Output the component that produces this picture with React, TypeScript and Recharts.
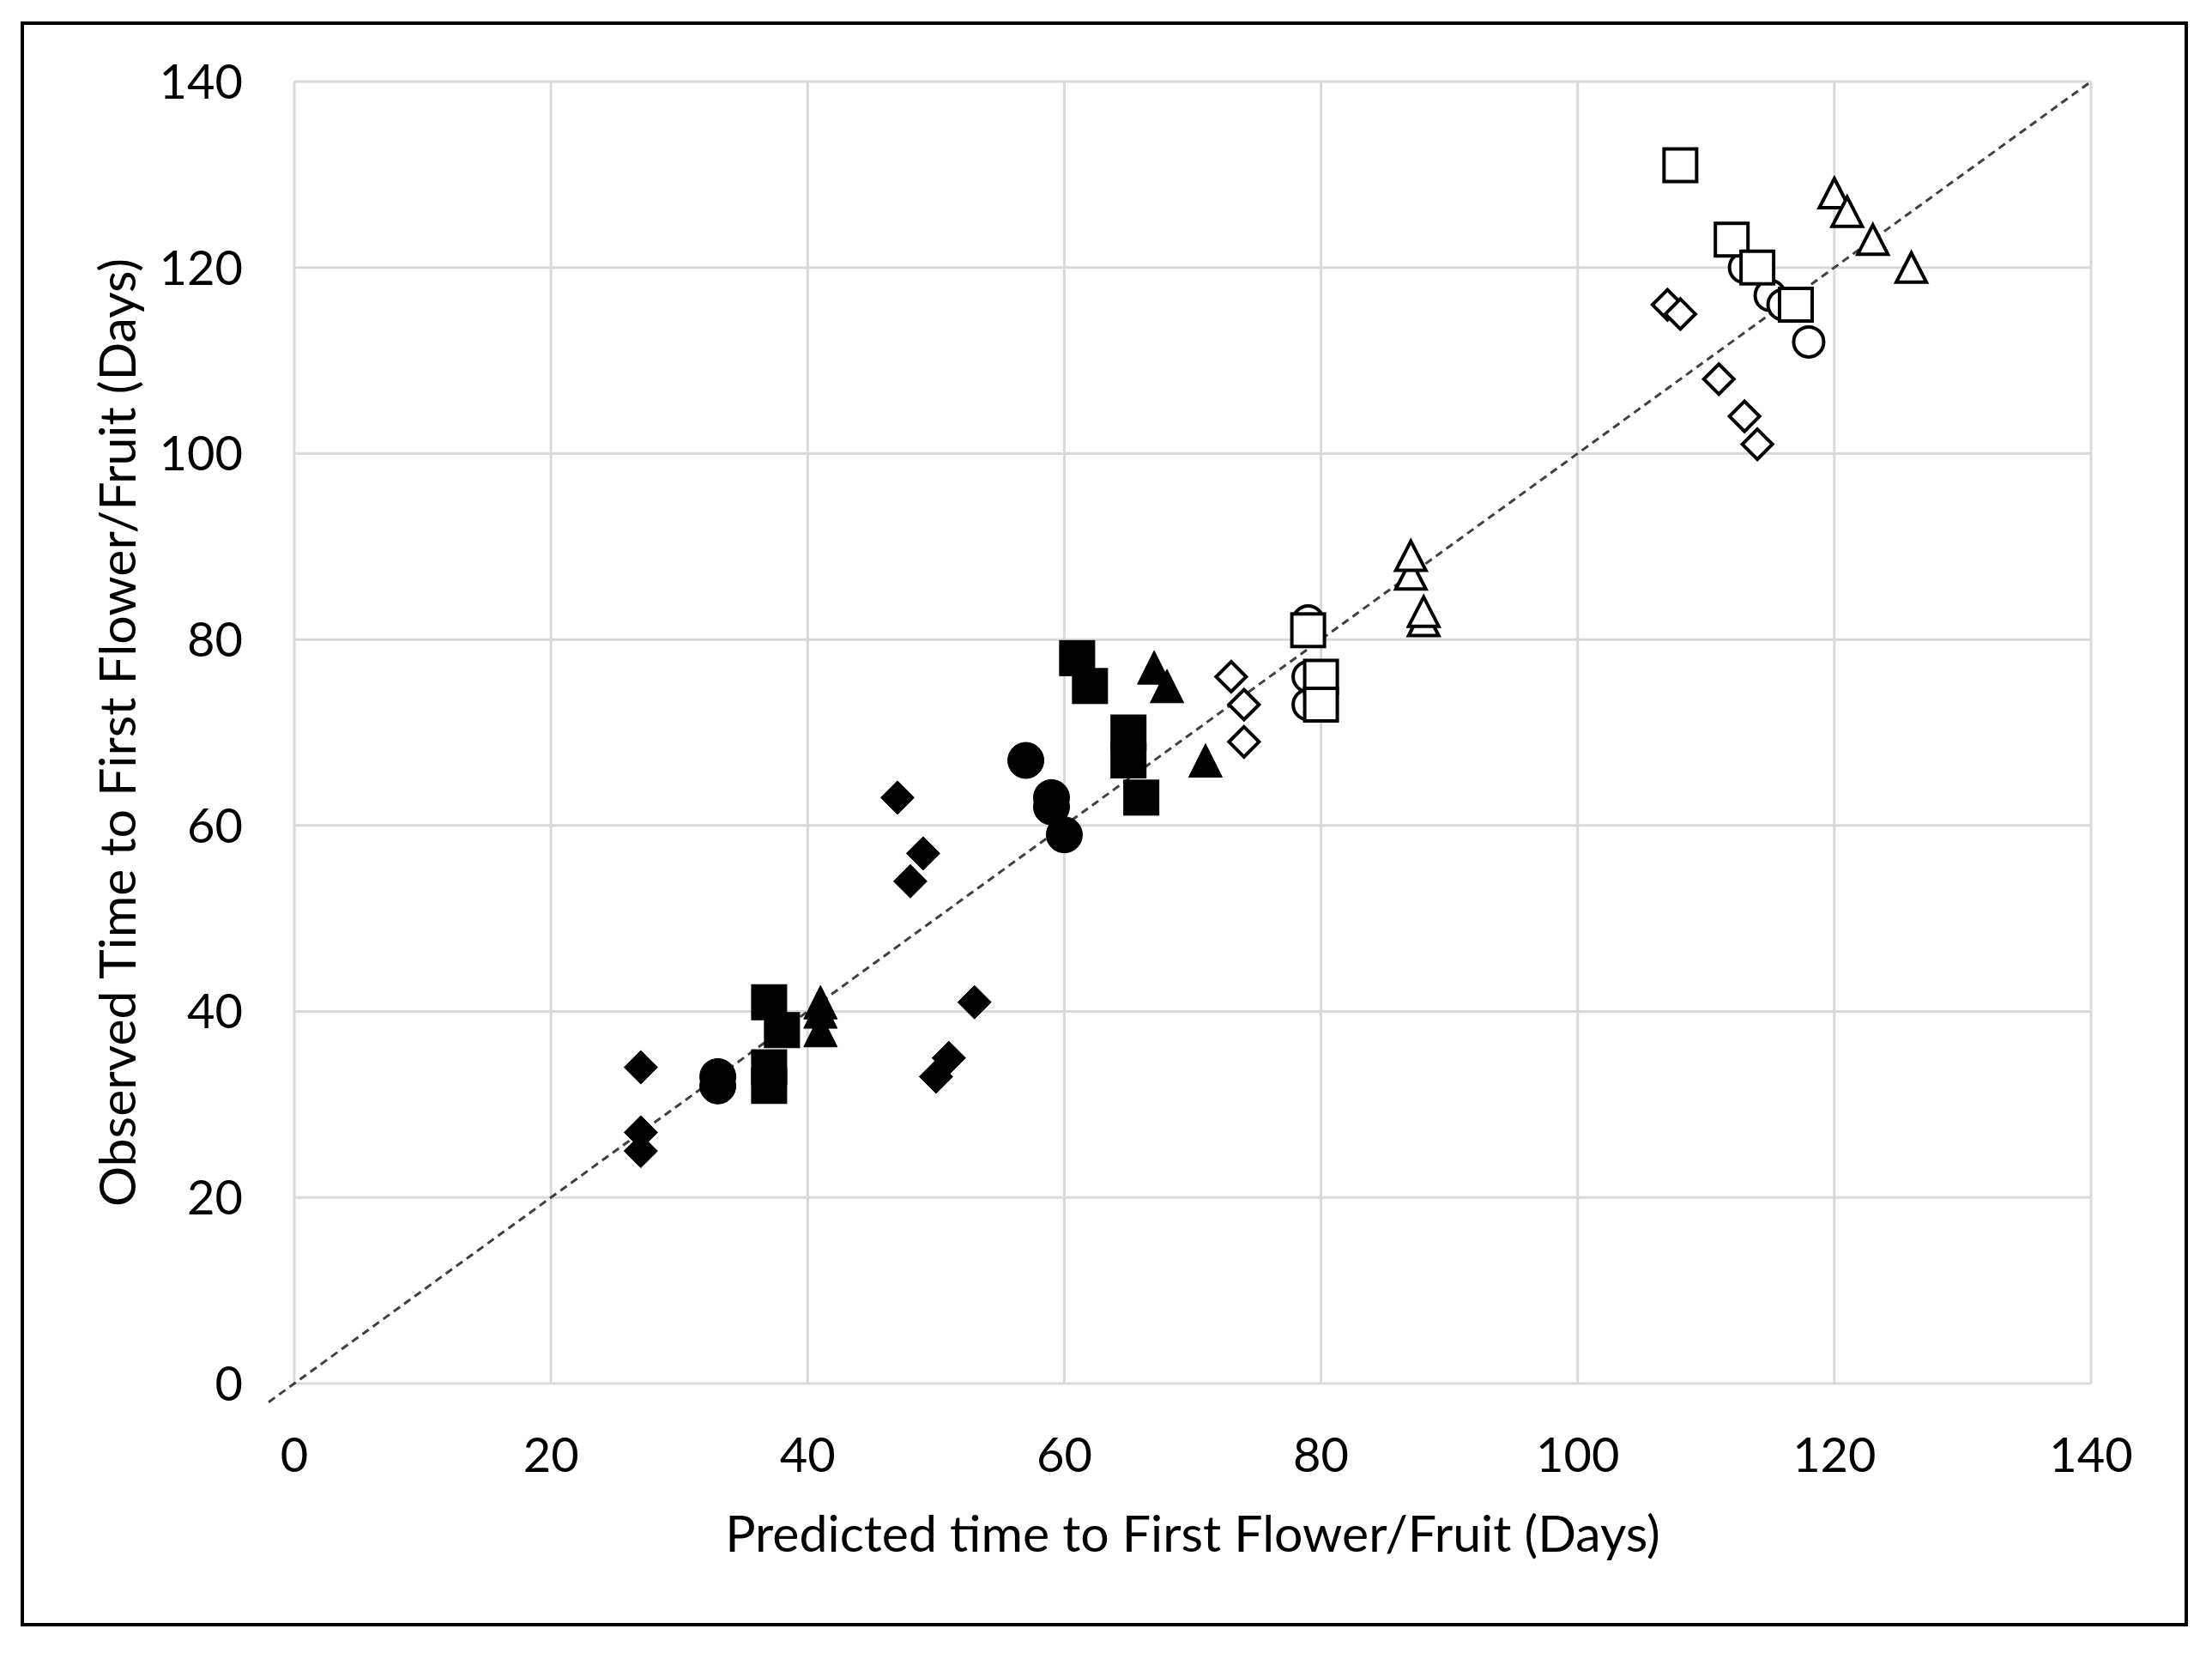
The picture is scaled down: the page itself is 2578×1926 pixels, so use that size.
import React from 'react'
import {
  ScatterChart,
  Scatter,
  XAxis,
  YAxis,
  CartesianGrid,
  ReferenceLine,
} from 'recharts'

const axisTicks = [0, 20, 40, 60, 80, 100, 120, 140]

// filled markers
const filledDiamonds = [
  { x: 27, y: 34 }, { x: 27, y: 27 }, { x: 27, y: 25 },
  { x: 47, y: 63 }, { x: 48, y: 54 }, { x: 49, y: 57 },
  { x: 53, y: 41 }, { x: 51, y: 35 }, { x: 50, y: 33 },
]
const filledCircles = [
  { x: 33, y: 33 }, { x: 33, y: 32 }, { x: 57, y: 67 },
  { x: 59, y: 63 }, { x: 59, y: 62 }, { x: 60, y: 59 },
]
const filledSquares = [
  { x: 37, y: 41 }, { x: 38, y: 38 }, { x: 37, y: 34 }, { x: 37, y: 32 },
  { x: 61, y: 78 }, { x: 62, y: 75 }, { x: 65, y: 70 }, { x: 65, y: 67 },
  { x: 66, y: 63 },
]
const filledTriangles = [
  { x: 41, y: 41 }, { x: 41, y: 40 }, { x: 41, y: 38 },
  { x: 67, y: 77 }, { x: 68, y: 75 }, { x: 71, y: 67 },
]

// open markers
const openDiamonds = [
  { x: 73, y: 76 }, { x: 74, y: 73 }, { x: 74, y: 69 },
  { x: 107, y: 116 }, { x: 108, y: 115 }, { x: 111, y: 108 },
  { x: 113, y: 104 }, { x: 114, y: 101 },
]
const openCircles = [
  { x: 79, y: 82 }, { x: 79, y: 76 }, { x: 79, y: 73 },
  { x: 113, y: 120 }, { x: 115, y: 117 }, { x: 116, y: 116 }, { x: 118, y: 112 },
]
const openSquares = [
  { x: 79, y: 81 }, { x: 80, y: 76 }, { x: 80, y: 73 },
  { x: 108, y: 131 }, { x: 112, y: 123 }, { x: 114, y: 120 }, { x: 117, y: 116 },
]
const openTriangles = [
  { x: 87, y: 87 }, { x: 87, y: 89 }, { x: 88, y: 82 }, { x: 88, y: 83 },
  { x: 120, y: 128 }, { x: 121, y: 126 }, { x: 123, y: 123 }, { x: 126, y: 120 },
]

const identityLine = [{ x: -2, y: -2 }, { x: 140, y: 140 }]

const FONT = 'Lato, "Open Sans", sans-serif'

type Kind = 'diamond' | 'circle' | 'square' | 'triangle'

function marker(kind: Kind, filled: boolean) {
  return (props: any) => {
    const cx = props.cx ?? 0
    const cy = props.cy ?? 0
    const fill = filled ? '#000' : '#fff'
    const sw = filled ? 1 : 4
    const common = { fill, stroke: '#000', strokeWidth: sw, strokeLinejoin: 'miter' as const }
    if (kind === 'circle') {
      const r = filled ? 21 : 17.5
      return <ellipse cx={cx} cy={cy} rx={r} ry={r} {...common} />
    }
    if (kind === 'square') {
      const h = filled ? 20.5 : 19
      return <rect x={cx - h} y={cy - h} width={h * 2} height={h * 2} {...common} />
    }
    if (kind === 'diamond') {
      const h = filled ? 19.5 : 17.5
      return (
        <path
          d={`M${cx},${cy - h} L${cx + h},${cy} L${cx},${cy + h} L${cx - h},${cy} Z`}
          {...common}
        />
      )
    }
    const w = filled ? 19.5 : 17.5
    const t = filled ? 19.5 : 17
    return (
      <path
        d={`M${cx},${cy - t} L${cx + w},${cy + t} L${cx - w},${cy + t} Z`}
        {...common}
      />
    )
  }
}

const tickStyle = { fontSize: 56, fill: '#000', fontFamily: FONT }

export default function App() {
  return (
    <div
      style={{
        position: 'absolute',
        left: 0,
        top: 0,
        width: 2578,
        height: 1926,
        background: '#fff',
      }}
    >
      <div
        style={{
          position: 'absolute',
          left: 24,
          top: 25,
          width: 2518,
          height: 1862,
          border: '4px solid #000',
        }}
      />
      <div style={{ position: 'absolute', left: 0, top: 0 }}>
        <ScatterChart
          width={2578}
          height={1926}
          margin={{ top: 95, right: 141, left: 93, bottom: 64 }}
        >
          <CartesianGrid stroke="#d9d9d9" strokeWidth={3} />
          <XAxis
            type="number"
            dataKey="x"
            domain={[0, 140]}
            ticks={axisTicks}
            axisLine={false}
            tickLine={false}
            tickSize={0}
            tickMargin={63}
            height={250}
            tick={tickStyle}
            allowDataOverflow
            label={{
              content: (p: any) => {
                const vb = p.viewBox || {}
                return (
                  <text
                    x={vb.x + vb.width / 2}
                    y={vb.y + 196}
                    textAnchor="middle"
                    fontSize={59}
                    fontFamily={FONT}
                    fill="#000"
                  >
                    Predicted time to First Flower/Fruit (Days)
                  </text>
                )
              },
            }}
          />
          <YAxis
            type="number"
            dataKey="y"
            domain={[0, 140]}
            ticks={axisTicks}
            axisLine={false}
            tickLine={false}
            tickSize={0}
            tickMargin={60}
            width={250}
            tick={tickStyle}
            allowDataOverflow
            label={{
              content: (p: any) => {
                const vb = p.viewBox || {}
                const cx = 158
                const cy = vb.y + vb.height / 2
                return (
                  <text
                    x={cx}
                    y={cy}
                    transform={`rotate(-90 ${cx} ${cy})`}
                    textAnchor="middle"
                    fontSize={59}
                    fontFamily={FONT}
                    fill="#000"
                  >
                    Observed Time to First Flower/Fruit (Days)
                  </text>
                )
              },
            }}
          />
          <Scatter data={filledDiamonds} shape={marker('diamond', true)} isAnimationActive={false} />
          <Scatter data={filledCircles} shape={marker('circle', true)} isAnimationActive={false} />
          <Scatter data={filledSquares} shape={marker('square', true)} isAnimationActive={false} />
          <Scatter data={filledTriangles} shape={marker('triangle', true)} isAnimationActive={false} />
          <Scatter data={openDiamonds} shape={marker('diamond', false)} isAnimationActive={false} />
          <Scatter data={openCircles} shape={marker('circle', false)} isAnimationActive={false} />
          <Scatter data={openSquares} shape={marker('square', false)} isAnimationActive={false} />
          <Scatter data={openTriangles} shape={marker('triangle', false)} isAnimationActive={false} />
          <ReferenceLine
            segment={identityLine}
            ifOverflow="visible"
            stroke="#404040"
            strokeWidth={3}
            strokeDasharray="9 6"
          />
        </ScatterChart>
      </div>
    </div>
  )
}
